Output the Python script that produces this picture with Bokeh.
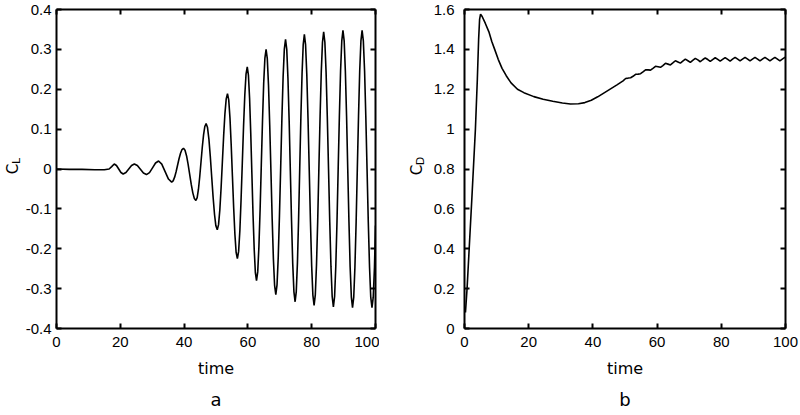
import math
from bokeh.plotting import figure
from bokeh.models import Range1d, FixedTicker, LinearAxis, CustomJSTickFormatter
from bokeh.core.properties import value
from bokeh.layouts import row
from bokeh.embed import file_html
from bokeh.resources import INLINE

# ---- data ----
time_cl = [0, 4, 8, 12, 15, 16.5, 17.3,
           18.1, 18.8, 19.5, 20.2, 20.9,
           21.775, 22.65, 23.525, 24.4,
           25.35, 26.3, 27.25, 28.2,
           29.15, 30.1, 31.05, 32.0,
           33.0, 34.05, 35.1, 36.1,
           36.56, 37.03, 37.49, 37.95, 38.41, 38.88, 39.34, 39.8,
           40.29, 40.78, 41.26, 41.75, 42.24, 42.73, 43.21, 43.7,
           44.1, 44.5, 44.9, 45.3, 45.7, 46.1, 46.5, 46.9,
           47.34, 47.78, 48.21, 48.65, 49.09, 49.53, 49.96, 50.4,
           50.8, 51.2, 51.6, 52.0, 52.4, 52.8, 53.2, 53.6,
           53.99, 54.38, 54.76, 55.15, 55.54, 55.93, 56.31, 56.7,
           57.09, 57.48, 57.86, 58.25, 58.64, 59.03, 59.41, 59.8,
           60.16, 60.53, 60.89, 61.25, 61.61, 61.98, 62.34, 62.7,
           63.08, 63.45, 63.83, 64.2, 64.58, 64.95, 65.33, 65.7,
           66.08, 66.46, 66.84, 67.23, 67.61, 67.99, 68.37, 68.75,
           69.13, 69.51, 69.89, 70.28, 70.66, 71.04, 71.42, 71.8,
           72.18, 72.55, 72.93, 73.3, 73.68, 74.05, 74.43, 74.8,
           75.16, 75.53, 75.89, 76.25, 76.61, 76.98, 77.34, 77.7,
           78.08, 78.46, 78.84, 79.23, 79.61, 79.99, 80.37, 80.75,
           81.13, 81.5, 81.88, 82.25, 82.63, 83.0, 83.38, 83.75,
           84.13, 84.51, 84.89, 85.28, 85.66, 86.04, 86.42, 86.8,
           87.18, 87.55, 87.93, 88.3, 88.68, 89.05, 89.43, 89.8,
           90.18, 90.55, 90.93, 91.3, 91.68, 92.05, 92.43, 92.8,
           93.18, 93.55, 93.93, 94.3, 94.68, 95.05, 95.43, 95.8,
           96.19, 96.58, 96.96, 97.35, 97.74, 98.13, 98.51, 98.9,
           99.29, 99.68, 100]
cl = [0.0, -0.001, -0.001, -0.002, -0.002, 0.0, 0.006,
      0.0125, 0.0088, 0.0, -0.0088, -0.0125,
      -0.0088, 0.0, 0.0088, 0.0125,
      0.0086, -0.0008, -0.0101, -0.014,
      -0.009, 0.003, 0.015, 0.020,
      0.0122, -0.0065, -0.0252, -0.033,
      -0.0298, -0.0205, -0.0068, 0.0095, 0.0258, 0.0395, 0.0488, 0.052,
      0.0470, 0.0328, 0.0116, -0.0135, -0.0386, -0.0598, -0.0740, -0.079,
      -0.0717, -0.0507, -0.0195, 0.0175, 0.0545, 0.0857, 0.1067, 0.114,
      0.1039, 0.0750, 0.0318, -0.0193, -0.0703, -0.1135, -0.1424, -0.1525,
      -0.1395, -0.1025, -0.0471, 0.0183, 0.0836, 0.1390, 0.1760, 0.189,
      0.1733, 0.1283, 0.0613, -0.018, -0.0973, -0.1643, -0.2093, -0.225,
      -0.2067, -0.1545, -0.0766, 0.0155, 0.1076, 0.1855, 0.2377, 0.256,
      0.2356, 0.1775, 0.0906, -0.012, -0.1146, -0.2015, -0.2596, -0.280,
      -0.2580, -0.1950, -0.1011, 0.010, 0.1211, 0.2150, 0.2780, 0.300,
      0.2766, 0.2099, 0.1103, -0.0075, -0.1253, -0.2249, -0.2916, -0.315,
      -0.2907, -0.2212, -0.1176, 0.005, 0.1276, 0.2312, 0.3007, 0.325,
      0.3000, 0.2286, 0.1220, -0.004, -0.1300, -0.2366, -0.3080, -0.333,
      -0.3075, -0.2348, -0.1262, 0.0023, 0.1307, 0.2393, 0.3120, 0.3375,
      0.3117, 0.2380, 0.1279, -0.0023, -0.1324, -0.2425, -0.3162, -0.342,
      -0.3159, -0.2415, -0.1304, 0.001, 0.1324, 0.2435, 0.3179, 0.344,
      0.3178, 0.2429, 0.1311, -0.001, -0.1331, -0.2449, -0.3198, -0.346,
      -0.3197, -0.2444, -0.1321, 0.0008, 0.1336, 0.2459, 0.3212, 0.3475,
      0.3211, 0.2457, 0.1331, 0.0, -0.1331, -0.2457, -0.3211, -0.3475,
      -0.3211, -0.2457, -0.1331, 0.0, 0.1331, 0.2457, 0.3211, 0.3475,
      0.3211, 0.2457, 0.1331, 0.0, -0.1331, -0.2457, -0.3211, -0.348,
      -0.3215, -0.246, -0.142]

time_cd = [0.3, 0.8, 2.3, 3.4, 4.0, 4.4, 4.7, 5.0, 5.5, 6.5,
           7.6, 8.5, 9.4, 10.5, 11.7, 13.0, 14.5, 16.5, 18.5, 21.6,
           24.5, 27.5, 30.5, 33.0, 35.5, 37.5, 39.5, 41.5, 43.5, 45.5,
           47.5, 49.4,
           50.2, 51.0, 51.75, 52.5, 53.3, 54.1, 54.85, 55.6, 56.4, 57.2,
           57.95, 58.7, 59.5, 60.3, 61.05, 61.8, 62.6, 63.4, 64.15, 64.9,
           65.7, 66.5, 67.25, 68.0, 68.8, 69.6, 70.35, 71.1, 71.9, 72.7,
           73.45, 74.2, 75.0, 75.8, 76.55, 77.3, 78.1, 78.9, 79.65, 80.4,
           81.2, 82.0, 82.75, 83.5, 84.3, 85.1, 85.85, 86.6, 87.4, 88.2,
           88.95, 89.7, 90.5, 91.3, 92.05, 92.8, 93.6, 94.4, 95.15, 95.9,
           96.7, 97.5, 98.25, 99.0, 99.8, 100]
cd = [0.08, 0.2, 0.655, 1.0, 1.25, 1.45, 1.55, 1.577, 1.565, 1.53,
      1.488, 1.44, 1.40, 1.35, 1.305, 1.268, 1.232, 1.20, 1.183, 1.163,
      1.15, 1.14, 1.131, 1.126, 1.127, 1.133, 1.145, 1.162, 1.182, 1.202,
      1.222, 1.242,
      1.254, 1.256, 1.258, 1.265, 1.275, 1.276, 1.278, 1.287, 1.297, 1.297,
      1.296, 1.305, 1.315, 1.313, 1.310, 1.319, 1.330, 1.326, 1.322, 1.332,
      1.343, 1.337, 1.331, 1.341, 1.351, 1.343, 1.335, 1.345, 1.355, 1.347,
      1.338, 1.348, 1.357, 1.349, 1.340, 1.349, 1.358, 1.350, 1.341, 1.350,
      1.359, 1.350, 1.341, 1.351, 1.360, 1.351, 1.342, 1.351, 1.360, 1.351,
      1.342, 1.351, 1.360, 1.351, 1.342, 1.351, 1.360, 1.351, 1.342, 1.351,
      1.360, 1.351, 1.342, 1.351, 1.360, 1.359]

time_ticks = [0, 20, 40, 60, 80, 100]
cl_ticks = [-0.4, -0.3, -0.2, -0.1, 0, 0.1, 0.2, 0.3, 0.4]
cd_ticks = [0, 0.2, 0.4, 0.6, 0.8, 1.0, 1.2, 1.4, 1.6]

TICK_FONT = "Liberation Sans"
LABEL_FONT = "DejaVu Sans"
H = 415
TOP = 9
BOTTOM = 86


def make_panel(width, bl, br, ystandoff, t, y, yrange, yticks, letter):
    p = figure(width=width, height=H, x_range=Range1d(0, 100),
               y_range=Range1d(yrange[0], yrange[1]),
               output_backend="svg", toolbar_location=None,
               x_axis_type=None, y_axis_type=None,
               min_border_left=bl, min_border_right=br,
               min_border_top=TOP, min_border_bottom=BOTTOM,
               title=letter, title_location="below")
    p.outline_line_color = None
    p.title.align = "center"
    p.title.text_font = LABEL_FONT
    p.title.text_font_size = "18px"
    p.title.text_font_style = "normal"
    p.title.text_color = "black"
    p.title.text_line_height = 0.6
    p.title.standoff = 12
    fmt = CustomJSTickFormatter(code="return String(Math.round(tick*10)/10);")
    for side in ["below", "left", "above", "right"]:
        ticks = time_ticks if side in ("below", "above") else yticks
        ax = LinearAxis(ticker=FixedTicker(ticks=ticks, minor_ticks=[]), formatter=fmt)
        ax.axis_line_width = 2
        ax.axis_line_color = "black"
        ax.major_tick_in = 5
        ax.major_tick_out = 0
        ax.major_tick_line_width = 2
        ax.major_tick_line_color = "black"
        ax.minor_tick_in = 0
        ax.minor_tick_out = 0
        if side in ("above", "right"):
            ax.major_label_text_font_size = "0px"
            ax.major_label_text_alpha = 0
            ax.major_label_standoff = 0
        else:
            ax.major_label_text_font = TICK_FONT
            ax.major_label_text_font_size = "15px"
            ax.major_label_text_color = "black"
            ax.major_label_standoff = ystandoff if side == "left" else 8
        if side == "below":
            ax.axis_label = "time"
            ax.axis_label_text_font = LABEL_FONT
            ax.axis_label_text_font_size = "16px"
            ax.axis_label_text_font_style = "normal"
            ax.axis_label_text_color = "black"
            ax.axis_label_standoff = 9
        p.add_layout(ax, side)

    p.line(t, y, line_color="black", line_width=1.6)
    return p


def label_fig(width, yrange, items):
    """Narrow strip carrying the rotated y-axis symbol with its subscript."""
    f = figure(width=width, height=H, x_range=Range1d(0, width), y_range=yrange,
               output_backend="svg", toolbar_location=None,
               x_axis_type=None, y_axis_type=None,
               min_border_left=0, min_border_right=0,
               min_border_top=TOP, min_border_bottom=BOTTOM)
    f.outline_line_color = None
    for txt, x, y, size in items:
        f.text(x=[x], y=[y], text=[txt], angle=math.pi / 2,
               text_font=value(LABEL_FONT), text_font_size=value(size),
               text_color="black", text_align="center", text_baseline="middle")
    return f


p1 = make_panel(357, 33, 4, 5, time_cl, cl, (-0.4, 0.4), cl_ticks, "a")
p2 = make_panel(373, 37, 15, 10, time_cd, cd, (0.0, 1.6), cd_ticks, "b")
lab1 = label_fig(22, p1.y_range, [("C", 12.5, 0.0, "15px"), ("L", 15.5, 0.02, "11px")])
lab2 = label_fig(48, p2.y_range, [("C", 37, 0.795, "15px"), ("D", 40.5, 0.84, "11px")])

layout = row(lab1, p1, lab2, p2)
open("out.html", "w").write(file_html(layout, INLINE))
